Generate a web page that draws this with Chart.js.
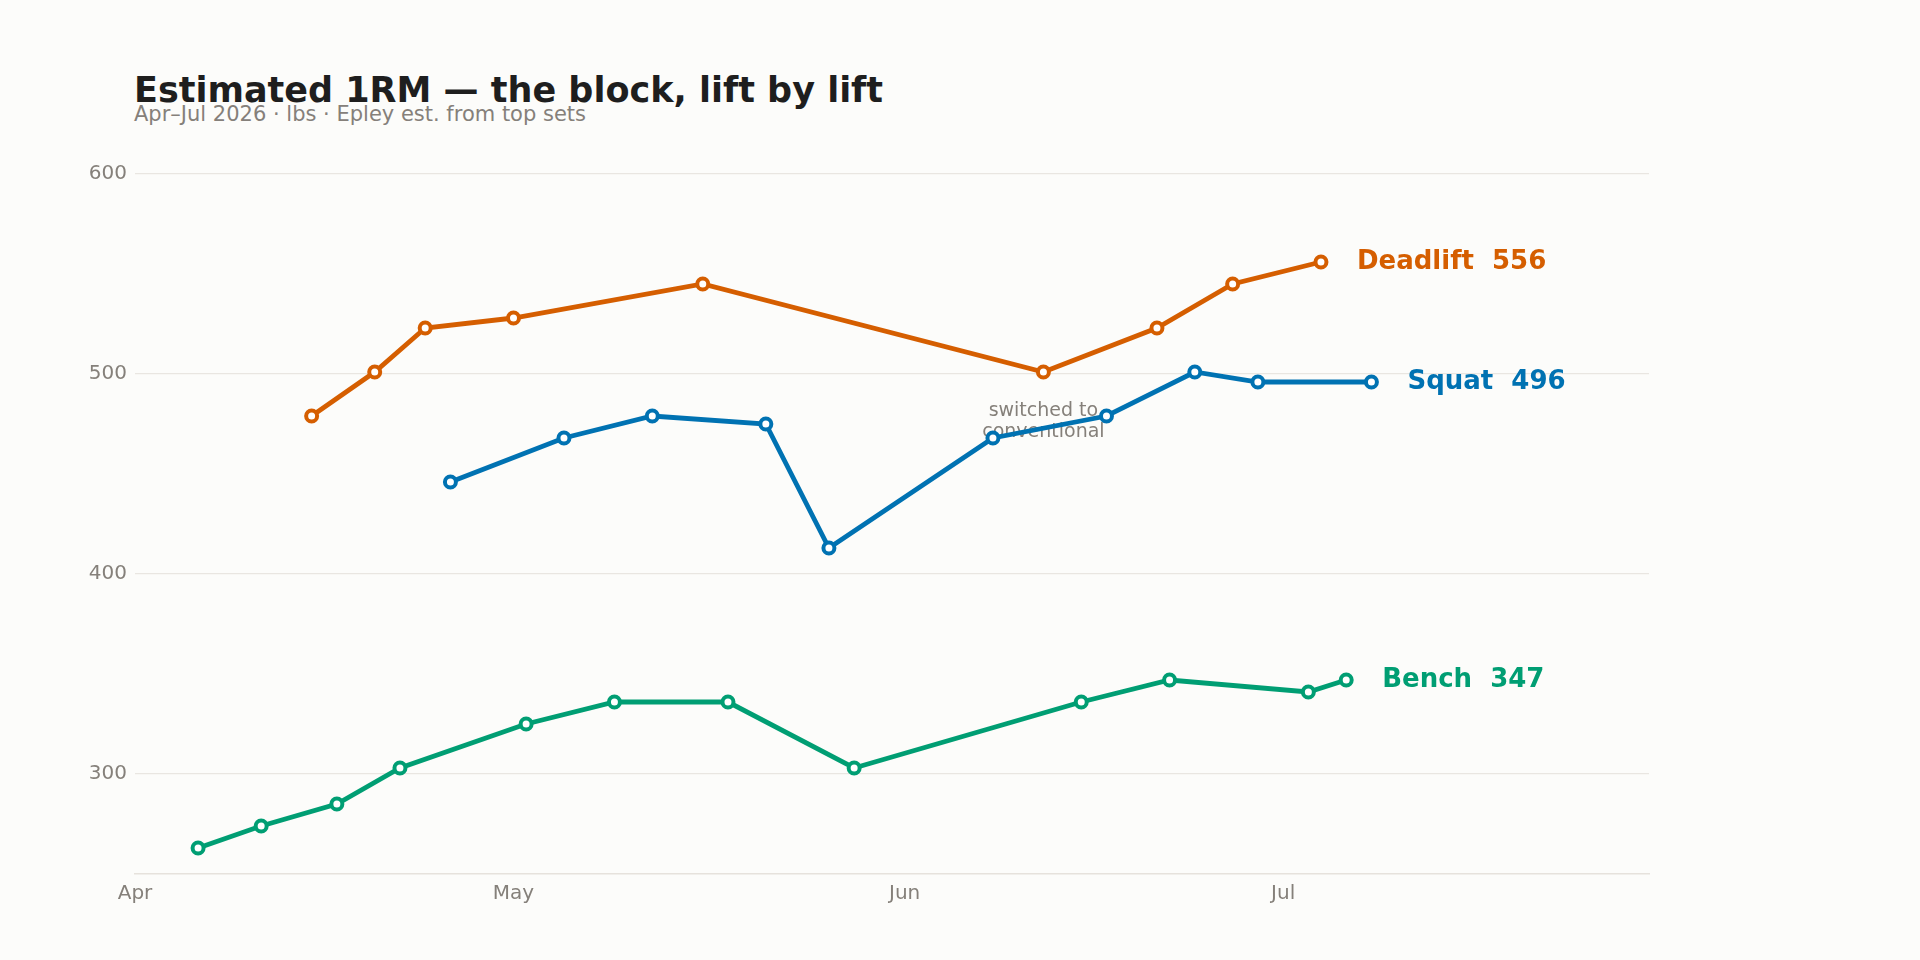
<!DOCTYPE html>
<html>
<head>
<meta charset="utf-8">
<script src="https://cdn.jsdelivr.net/npm/chart.js@4.4.1/dist/chart.umd.min.js"></script>
<style>
    html, body { margin: 0; padding: 0; background: #fcfcfa; }
    body { width: 1920px; height: 960px; position: relative; overflow: hidden; font-family: "DejaVu Sans", sans-serif; }
    #titulo { position: absolute; left: 134px; top: 73px; font-size: 35px; line-height: 35px; font-weight: bold; color: #1e1e1e; white-space: nowrap; }
    #subtitulo { position: absolute; left: 134px; top: 104px; font-size: 21px; line-height: 21px; color: #85807a; white-space: nowrap; }
    #grafica { position: absolute; left: 0; top: 0; }
</style>
</head>
<body>
<div id="titulo">Estimated 1RM — the block, lift by lift</div>
<div id="subtitulo">Apr–Jul 2026 · lbs · Epley est. from top sets</div>
<canvas id="grafica" width="1920" height="960"></canvas>
<script>
// días contados desde el 1 de abril
const deadliftDays = [14, 19, 23, 30, 45, 72, 81, 87, 94];
const deadliftValues = [479, 501, 523, 528, 545, 501, 523, 545, 556];
const squatDays = [25, 34, 41, 50, 55, 68, 77, 84, 89, 98];
const squatValues = [446, 468, 479, 475, 413, 468, 479, 501, 496, 496];
const benchDays = [5, 10, 16, 21, 31, 38, 47, 57, 75, 82, 93, 96];
const benchValues = [263, 274, 285, 303, 325, 336, 336, 303, 336, 347, 341, 347];

const monthTickDays = [0, 30, 61, 91];
const monthTickLabels = ['Apr', 'May', 'Jun', 'Jul'];
const valueTicks = [300, 400, 500, 600];

const liftNames = ['Deadlift', 'Squat', 'Bench'];
const liftColors = ['#d55e00', '#0072b2', '#009e73'];

const noteDay = 72;
const noteValue = 476;
const noteLines = ['switched to', 'conventional'];

const FONT = '"DejaVu Sans", sans-serif';
const GRIS = '#85807a';

function puntos(days, values) {
    return days.map((d, i) => ({ x: d, y: values[i] }));
}

const series = [
    puntos(deadliftDays, deadliftValues),
    puntos(squatDays, squatValues),
    puntos(benchDays, benchValues),
];

// etiquetas al final de cada línea + nota
const etiquetasPlugin = {
    id: 'etiquetas',
    beforeDatasetsDraw(chart) {
        const { ctx, scales } = chart;
        ctx.save();
        ctx.font = '19px ' + FONT;
        ctx.fillStyle = GRIS;
        ctx.textAlign = 'center';
        ctx.textBaseline = 'middle';
        const x = scales.x.getPixelForValue(noteDay);
        const y = scales.y.getPixelForValue(noteValue);
        ctx.fillText(noteLines[0], x, y - 10.5);
        ctx.fillText(noteLines[1], x, y + 10.5);
        ctx.restore();
    },
    afterDatasetsDraw(chart) {
        const { ctx } = chart;
        ctx.save();
        ctx.font = 'bold 26px ' + FONT;
        ctx.textAlign = 'left';
        ctx.textBaseline = 'middle';
        chart.data.datasets.forEach((ds, i) => {
            const meta = chart.getDatasetMeta(i);
            const last = meta.data[meta.data.length - 1];
            const valor = ds.data[ds.data.length - 1].y;
            ctx.fillStyle = liftColors[i];
            ctx.fillText(liftNames[i] + '  ' + valor, last.x + 36, last.y);
        });
        ctx.restore();
    }
};

new Chart(document.getElementById('grafica'), {
    type: 'line',
    data: {
        datasets: series.map((data, i) => ({
            label: liftNames[i],
            data: data,
            borderColor: liftColors[i],
            borderWidth: 4.8,
            pointRadius: 5.5,
            pointBorderWidth: 4,
            pointBackgroundColor: '#ffffff',
            pointBorderColor: liftColors[i],
            tension: 0,
        })),
    },
    options: {
        responsive: false,
        animation: false,
        devicePixelRatio: 1,
        layout: { padding: { left: 0, top: 174, right: 271, bottom: 46 } },
        plugins: {
            legend: { display: false },
            tooltip: { enabled: false },
        },
        scales: {
            x: {
                type: 'linear',
                min: 0,
                max: 120,
                afterBuildTicks: (scale) => { scale.ticks = monthTickDays.map(v => ({ value: v })); },
                afterFit: (scale) => { scale.height = 40; },
                ticks: {
                    callback: (v) => monthTickLabels[monthTickDays.indexOf(v)],
                    font: { family: FONT, size: 20 },
                    color: GRIS,
                    padding: 8,
                    maxRotation: 0,
                },
                grid: { display: false, drawTicks: false },
                border: { display: true, color: '#e6e2dc', width: 1.5 },
            },
            y: {
                min: 250,
                max: 600,
                afterBuildTicks: (scale) => { scale.ticks = valueTicks.map(v => ({ value: v })); },
                afterFit: (scale) => { scale.width = 135; },
                ticks: {
                    font: { family: FONT, size: 20 },
                    color: GRIS,
                    padding: 8,
                },
                grid: { color: '#e9e6e1', lineWidth: 1.3, drawTicks: false },
                border: { display: false },
            },
        },
    },
    plugins: [etiquetasPlugin],
});
</script>
</body>
</html>
